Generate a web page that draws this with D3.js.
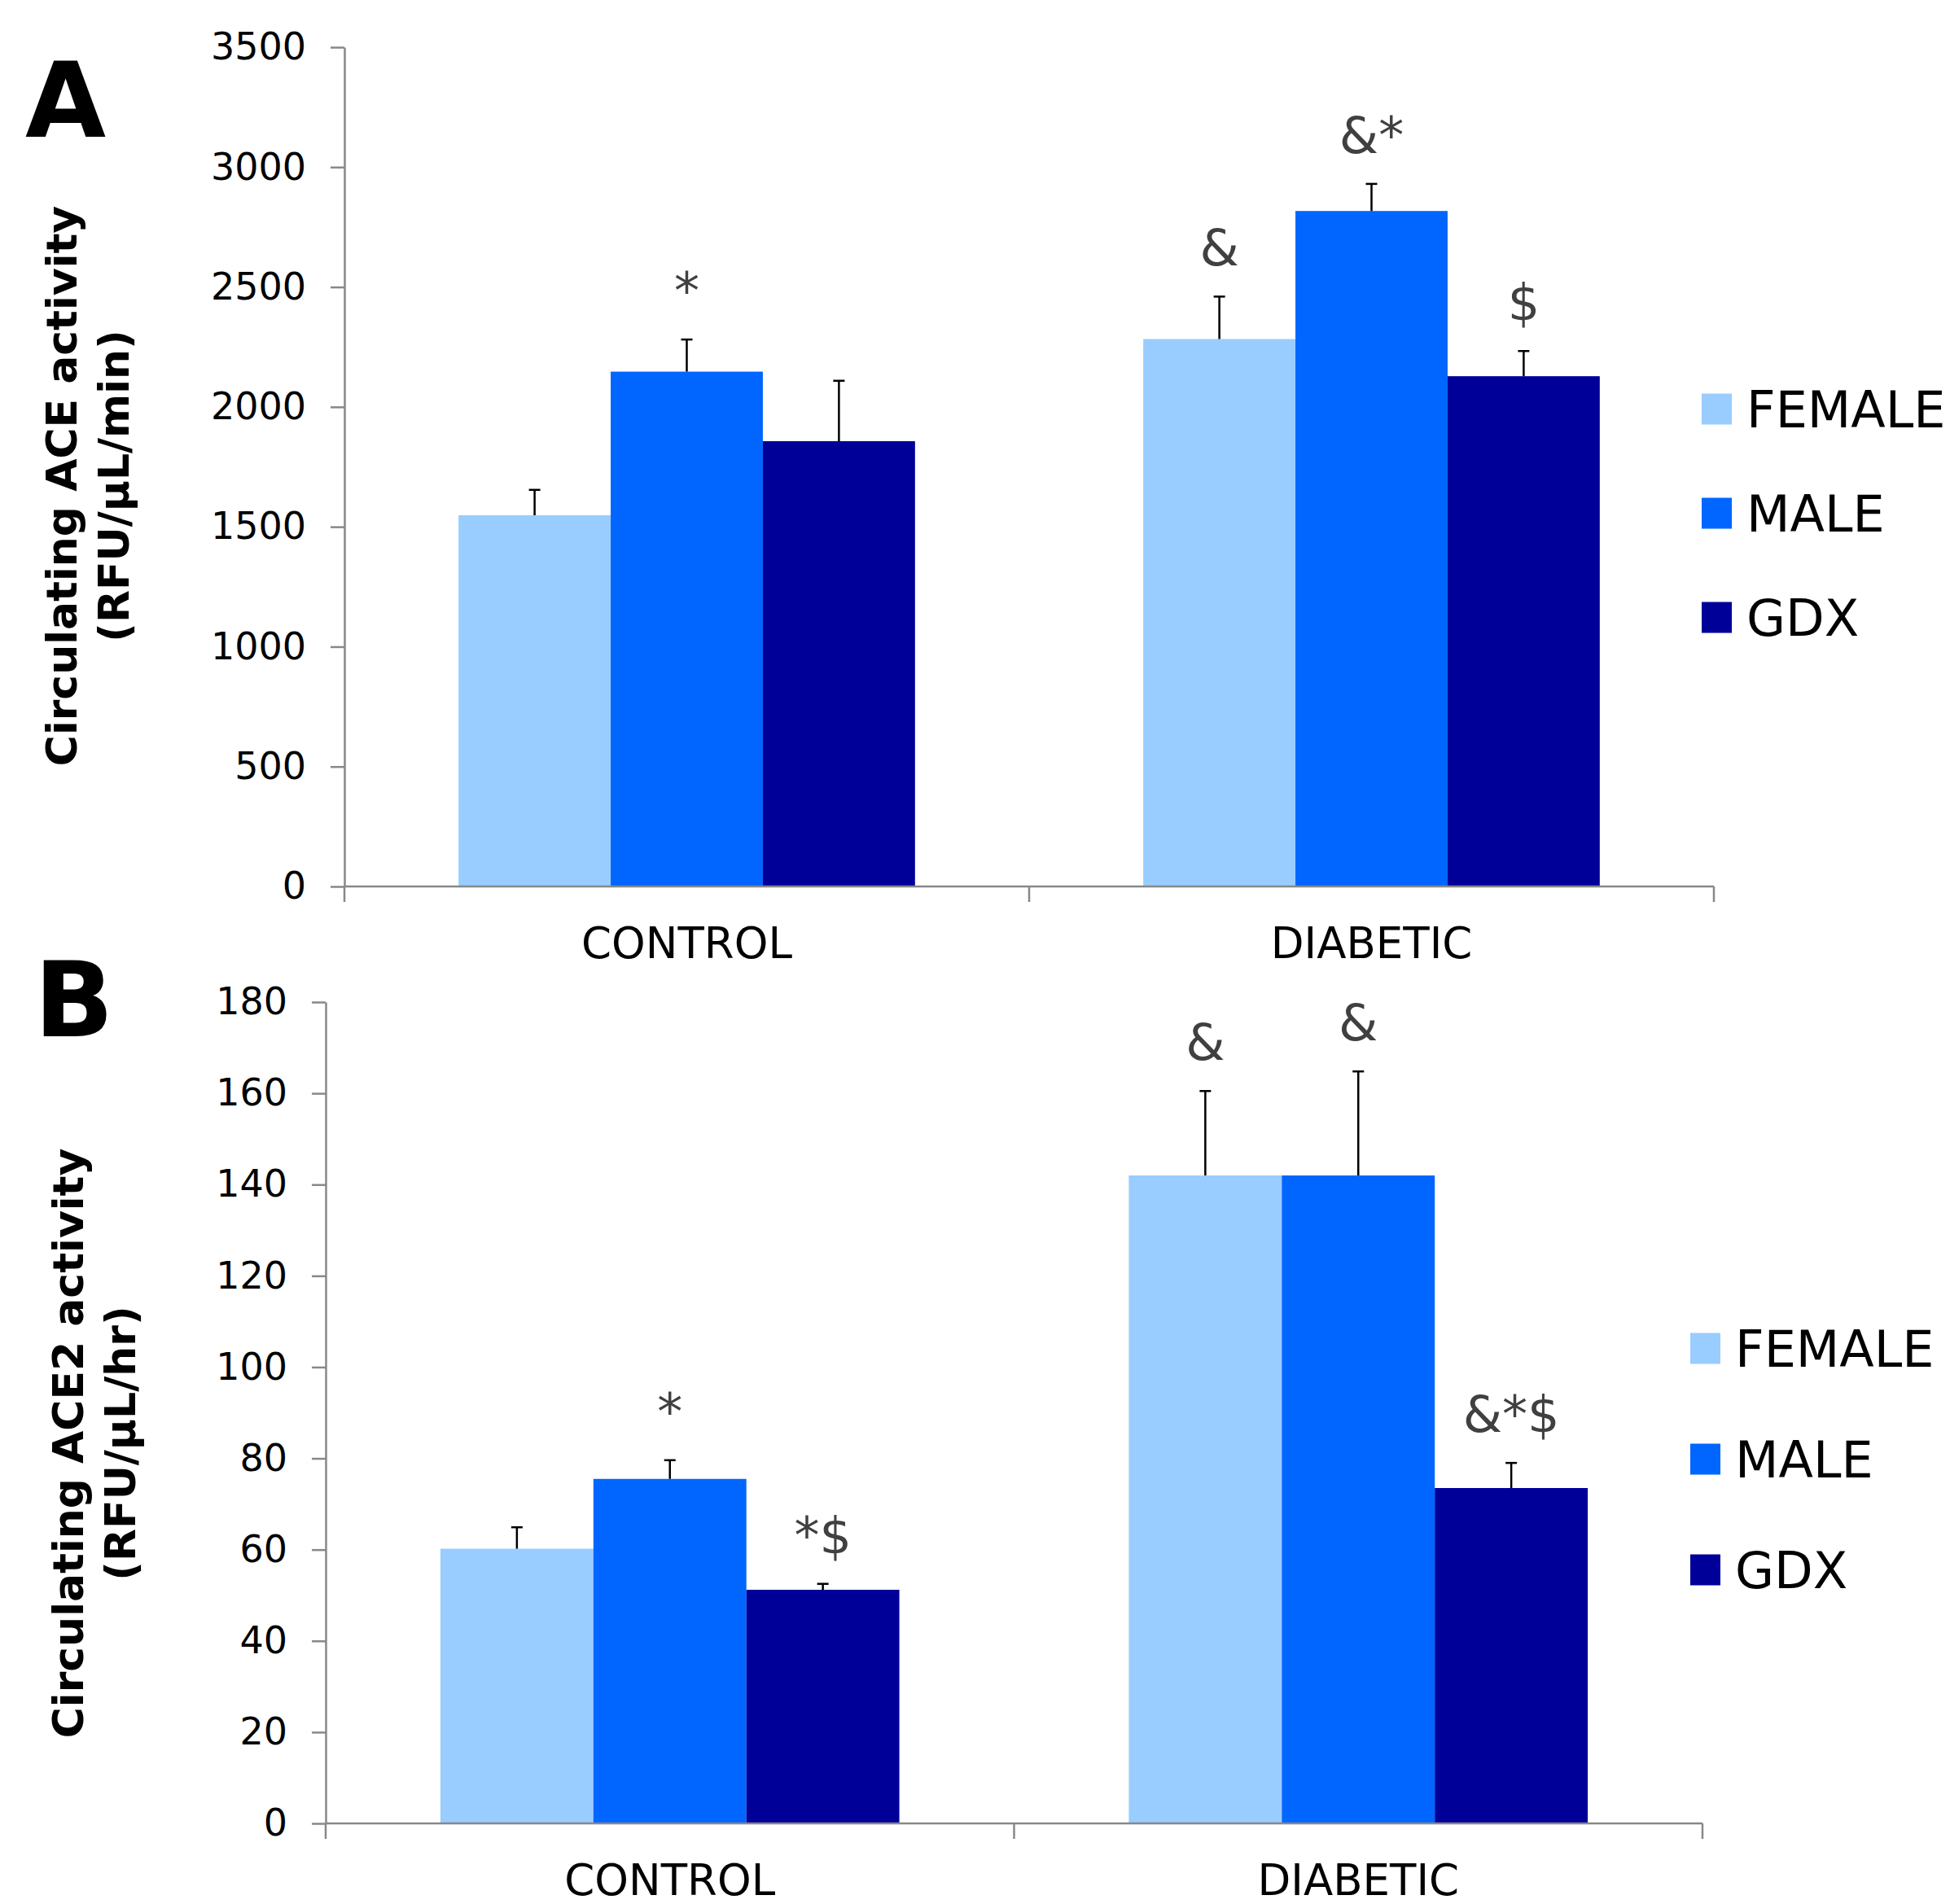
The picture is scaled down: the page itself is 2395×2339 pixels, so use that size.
<!DOCTYPE html>
<html>
<head>
<meta charset="utf-8">
<script src="https://cdn.jsdelivr.net/npm/d3@7"></script>
<style>
body { margin: 0; background: #fff; }
text { font-family: "DejaVu Sans", Verdana, sans-serif; }
</style>
</head>
<body>
<div id="chart"></div>
<script>
const categories = ["CONTROL", "DIABETIC"];
const groups = ["FEMALE", "MALE", "GDX"];
const groupColors = ["#99ccff", "#0066ff", "#000099"];

// panel A: circulating ACE activity, rows = categories, cols = groups
const aceMeans = [[1548, 2147, 1857], [2283, 2817, 2128]];
const aceErrors = [[106, 134, 252], [177, 113, 105]];
const aceMarks = [["", "*", ""], ["&", "&*", "$"]];
const aceTicks = [0, 500, 1000, 1500, 2000, 2500, 3000, 3500];

// panel B: circulating ACE2 activity
const ace2Means = [[60.2, 75.5, 51.2], [142.0, 142.0, 73.5]];
const ace2Errors = [[4.7, 4.1, 1.3], [18.5, 22.8, 5.5]];
const ace2Marks = [["", "*", "*$"], ["&", "&", "&*$"]];
const ace2Ticks = [0, 20, 40, 60, 80, 100, 120, 140, 160, 180];

let width = 2395, height = 2339;
let svg = d3.select("#chart")
    .append("svg")
    .attr("width", width)
    .attr("height", height);

drawPanel({
    letter: "A", letterX: 31, letterY: 168,
    title: ["Circulating ACE activity", "(RFU/\u00b5L/min)"], titleX: [94, 158], titleY: 597,
    left: 423, right: 2105, top: 58, bottom: 1089, legendStep: 128,
    means: aceMeans, errors: aceErrors, marks: aceMarks, ticks: aceTicks
});

drawPanel({
    letter: "B", letterX: 42, letterY: 1273,
    title: ["Circulating ACE2 activity", "(RFU/\u00b5L/hr)"], titleX: [102, 166], titleY: 1773,
    left: 400, right: 2091, top: 1231, bottom: 2240, legendStep: 136,
    means: ace2Means, errors: ace2Errors, marks: ace2Marks, ticks: ace2Ticks
});

function drawPanel(p) {
    let g = svg.append("g");

    let x0 = d3.scaleBand().domain(categories).range([p.left, p.right]);
    // gap width of 150% between clusters
    let x1 = d3.scaleBand().domain(groups).range([0, x0.bandwidth()]).paddingOuter(0.75);
    let y = d3.scaleLinear().domain([0, d3.max(p.ticks)]).range([p.bottom, p.top]);
    let color = d3.scaleOrdinal().domain(groups).range(groupColors);

    let rows = [];
    categories.forEach(function(c, i) {
        groups.forEach(function(s, j) {
            rows.push({cat: c, grp: s, v: p.means[i][j], e: p.errors[i][j], mark: p.marks[i][j]});
        });
    });
    let cx = function(d) { return x0(d.cat) + x1(d.grp) + x1.bandwidth() / 2; };

    // bars
    g.append("g").selectAll("rect").data(rows).enter()
        .append("rect")
        .attr("x", function(d) { return x0(d.cat) + x1(d.grp); })
        .attr("y", function(d) { return y(d.v); })
        .attr("width", x1.bandwidth())
        .attr("height", function(d) { return y(0) - y(d.v); })
        .attr("fill", function(d) { return color(d.grp); });

    // y axis
    let yAxis = g.append("g")
        .attr("transform", `translate(${p.left}, 0)`)
        .call(d3.axisLeft(y).tickValues(p.ticks).tickFormat(d3.format("d"))
            .tickSize(17).tickPadding(30).tickSizeOuter(0));
    yAxis.select(".domain").attr("stroke", "#888").attr("stroke-width", 2.5);
    yAxis.selectAll(".tick line").attr("stroke", "#888").attr("stroke-width", 2.5);
    yAxis.selectAll(".tick text").attr("font-size", 46).attr("fill", "#000")
        .style("font-family", "'DejaVu Sans', Verdana, sans-serif");

    // x axis line with ticks at category boundaries
    let bounds = categories.map(function(c) { return x0(c); }).concat([x0.range()[1]]);
    g.append("line")
        .attr("x1", p.left).attr("x2", p.right)
        .attr("y1", y(0)).attr("y2", y(0))
        .attr("stroke", "#888").attr("stroke-width", 2.5);
    g.append("g").selectAll("line").data(bounds).enter()
        .append("line")
        .attr("x1", function(d) { return d; }).attr("x2", function(d) { return d; })
        .attr("y1", y(0)).attr("y2", y(0) + 19)
        .attr("stroke", "#888").attr("stroke-width", 2.5);

    // category labels
    let xAxis = g.append("g")
        .attr("transform", `translate(0, ${y(0)})`)
        .call(d3.axisBottom(x0).tickSize(0).tickPadding(50));
    xAxis.select(".domain").remove();
    xAxis.selectAll(".tick text").attr("font-size", 53).attr("fill", "#000")
        .style("font-family", "'DejaVu Sans', Verdana, sans-serif");

    // error bars (upper only)
    let err = g.append("g").selectAll("g").data(rows).enter().append("g");
    err.append("line")
        .attr("x1", cx).attr("x2", cx)
        .attr("y1", function(d) { return y(d.v); })
        .attr("y2", function(d) { return y(d.v + d.e); })
        .attr("stroke", "#000").attr("stroke-width", 2.5);
    err.append("line")
        .attr("x1", function(d) { return cx(d) - 7; })
        .attr("x2", function(d) { return cx(d) + 7; })
        .attr("y1", function(d) { return y(d.v + d.e); })
        .attr("y2", function(d) { return y(d.v + d.e); })
        .attr("stroke", "#000").attr("stroke-width", 2.5);

    // significance marks
    g.append("g").selectAll("text").data(rows.filter(function(d) { return d.mark; })).enter()
        .append("text")
        .attr("x", cx)
        .attr("y", function(d) { return y(d.v + d.e) - 38; })
        .attr("text-anchor", "middle")
        .attr("font-size", 62)
        .attr("fill", "#404040")
        .text(function(d) { return d.mark; });

    // legend
    let mid = (p.top + p.bottom) / 2 + 57;
    let legend = g.append("g").selectAll("g").data(groups).enter()
        .append("g")
        .attr("transform", function(d, i) { return `translate(${p.right - 15}, ${mid + (i - 1) * p.legendStep})`; });
    legend.append("rect")
        .attr("x", 0).attr("y", -19)
        .attr("width", 37).attr("height", 38)
        .attr("fill", function(d) { return color(d); });
    legend.append("text")
        .attr("x", 55).attr("y", 0)
        .attr("dy", "0.36em")
        .attr("font-size", 62)
        .attr("fill", "#000")
        .text(function(d) { return d; });

    // y-axis title (two lines)
    p.title.forEach(function(t, i) {
        g.append("text")
            .attr("transform", `translate(${p.titleX[i]}, ${p.titleY}) rotate(-90)`)
            .attr("text-anchor", "middle")
            .attr("font-size", 52)
            .attr("font-weight", "bold")
            .attr("fill", "#000")
            .text(t);
    });

    // panel letter
    g.append("text")
        .attr("x", p.letterX).attr("y", p.letterY)
        .attr("font-size", 128)
        .attr("font-weight", "bold")
        .attr("fill", "#000")
        .text(p.letter);
}
</script>
</body>
</html>
